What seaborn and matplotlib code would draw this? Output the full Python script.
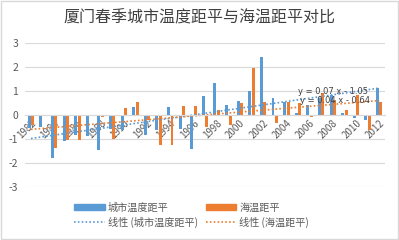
import matplotlib
matplotlib.use("Agg")
import matplotlib.pyplot as plt
import numpy as np
import pandas as pd
import seaborn as sns
from matplotlib.lines import Line2D
from matplotlib.patches import Patch, Rectangle

# %% data
years = [str(y) for y in range(1982, 2013)]
city_anom = [-0.55, -0.49, -1.80, -1.10, -0.83, -0.88, -1.46, -0.60, -0.63, 0.32,
             -0.83, -0.63, 0.35, -0.60, -1.42, 0.79, 1.35, 0.42, 0.60, 1.01,
             2.43, 0.69, 0.53, 0.08, 0.42, 0.72, 0.83, 0.07, -0.14, -0.21, 1.11]
sea_anom = [-0.42, -0.04, -1.39, -1.04, -1.04, -0.04, -0.10, -1.00, 0.28, 0.56,
            -0.20, -1.25, -1.25, 0.38, 0.38, -0.49, 0.21, -0.42, 0.49, 1.94,
            0.53, -0.32, 0.53, 0.49, -0.07, 0.90, 0.63, 0.21, 0.83, -0.63, 0.53]
series_names = ["城市温度距平", "海温距平"]
trend_slope = [0.07, 0.04]
trend_icpt = [-1.05, -0.64]
yticks = [-3, -2, -1, 0, 1, 2, 3]

blue, orange = "#5B9BD5", "#ED7D31"
txt = "#595959"

df = pd.DataFrame({
    "year": years * 2,
    "value": city_anom + sea_anom,
    "series": [series_names[0]] * len(years) + [series_names[1]] * len(years),
})

# %% plot
sns.set_style("white")
plt.rcParams["font.family"] = ["Noto Sans CJK SC", "DejaVu Sans"]

fig = plt.figure(figsize=(3.99, 2.40), dpi=100)
ax = fig.add_axes([0.063, 0.221, 0.902, 0.6])

sns.barplot(df, x="year", y="value", hue="series", order=years,
            hue_order=series_names, palette=[blue, orange], saturation=1,
            width=0.6, gap=0.15, linewidth=0, legend=False, ax=ax)

x = np.arange(len(years))
for s, b, c in zip(trend_slope, trend_icpt, [blue, orange]):
    ax.plot(x, s * (x + 1) + b, color=c, lw=1.2, ls=(0, (1, 1.3)))

ax.text(23.0, 0.97, "y = 0.07 x - 1.05", fontsize=6, color="#404040",
        family="DejaVu Sans", va="center")
ax.text(23.2, 0.60, "y = 0.04 x - 0.64", fontsize=6, color="#404040",
        family="DejaVu Sans", va="center")

ax.set_ylim(-3, 3)
ax.set_xlim(-0.5, len(years) - 0.5)
ax.set_yticks(yticks)
ax.set_yticklabels([str(v) for v in yticks], fontsize=7.5, color=txt)
ax.yaxis.grid(True, color="#D9D9D9", lw=0.8)
ax.set_axisbelow(True)
for sp in ["top", "right", "left"]:
    ax.spines[sp].set_visible(False)
ax.spines["bottom"].set_position(("data", 0))
ax.spines["bottom"].set_color("#D9D9D9")
ax.spines["bottom"].set_linewidth(0.8)
ax.set_xticks(x)
ax.set_xticklabels([y if i % 2 == 0 else "" for i, y in enumerate(years)],
                   rotation=45, ha="right", rotation_mode="anchor",
                   fontsize=7, color=txt)
ax.tick_params(axis="both", length=0, pad=5)
ax.tick_params(axis="x", pad=2)
ax.set_xlabel("")
ax.set_ylabel("")

fig.suptitle("厦门春季城市温度距平与海温距平对比", fontsize=11.5,
             color="#404040", y=0.925, va="center", x=0.5)

handles = [Patch(color=blue), Line2D([], [], color=blue, lw=1.2, ls=(0, (1, 1.3))),
           Patch(color=orange), Line2D([], [], color=orange, lw=1.2, ls=(0, (1, 1.3)))]
labels = ["城市温度距平", "线性 (城市温度距平)", "海温距平", "线性 (海温距平)"]
fig.legend(handles, labels, ncol=2, loc="center", bbox_to_anchor=(0.48, 0.104),
           frameon=False, fontsize=7.3, labelcolor=txt, handlelength=3,
           handleheight=0.6, handletextpad=0.3, columnspacing=0.8,
           labelspacing=0.4)

fig.patches.append(Rectangle((0.002, 0.003), 0.995, 0.993, transform=fig.transFigure,
                             fill=False, edgecolor="#D9D9D9", lw=1))

plt.savefig("out.png", dpi=100)
